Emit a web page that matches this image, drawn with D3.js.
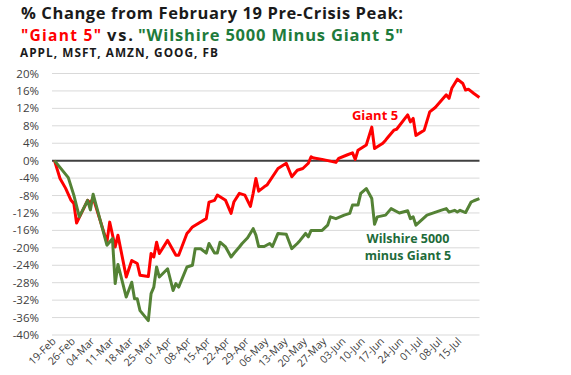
<!DOCTYPE html>
<html>
<head>
<meta charset="utf-8">
<script src="https://cdn.jsdelivr.net/npm/d3@7"></script>
<style>
  body { margin: 0; background: #fff; }
  text { font-family: "Open Sans", sans-serif; }
</style>
</head>
<body>
<div id="chart"></div>
<script>
// % change from Feb 19 peak
const giantDates = ["2020-02-19","2020-02-21","2020-02-23","2020-02-25","2020-02-26","2020-02-27","2020-02-28",
  "2020-03-02","2020-03-03","2020-03-04","2020-03-09","2020-03-10","2020-03-12","2020-03-13","2020-03-16",
  "2020-03-18","2020-03-20","2020-03-21","2020-03-24","2020-03-25","2020-03-26","2020-03-27","2020-03-28",
  "2020-03-31","2020-04-03","2020-04-04","2020-04-07","2020-04-08","2020-04-09","2020-04-14","2020-04-15",
  "2020-04-17","2020-04-18","2020-04-21","2020-04-23","2020-04-24","2020-04-26","2020-04-28","2020-04-30",
  "2020-05-01","2020-05-02","2020-05-03","2020-05-05","2020-05-06","2020-05-10","2020-05-13","2020-05-15",
  "2020-05-17","2020-05-19","2020-05-21","2020-05-22","2020-05-23","2020-05-26","2020-05-31","2020-06-01",
  "2020-06-04","2020-06-06","2020-06-07","2020-06-08","2020-06-11","2020-06-13","2020-06-14","2020-06-17",
  "2020-06-18","2020-06-19","2020-06-21","2020-06-22","2020-06-26","2020-06-27","2020-06-28","2020-06-29",
  "2020-07-02","2020-07-04","2020-07-06","2020-07-10","2020-07-11","2020-07-12","2020-07-14","2020-07-16",
  "2020-07-17","2020-07-18","2020-07-20","2020-07-22"];
const giantValues = [0,-4.1,-6.3,-9.1,-9.8,-14.3,-13.0,
  -9.1,-9.8,-8.5,-18.7,-14.1,-19.8,-17.1,-26.7,
  -22.9,-23.6,-26.3,-26.6,-21.3,-22.1,-18.7,-21.3,
  -18.3,-21.7,-21.7,-16.7,-16.0,-15.2,-13.3,-9.5,
  -9.1,-7.9,-9.1,-12.1,-9.5,-7.5,-7.9,-10.5,
  -7.5,-4.1,-7.0,-6.0,-5.6,-1.8,-0.6,-3.7,
  -2.2,-1.8,-0.6,0.9,0.6,0.3,-0.4,0.5,
  1.3,1.8,0.3,2.4,3.6,7.7,2.8,4.0,
  4.7,5.5,7.0,7.2,10.5,8.9,9.7,5.8,
  7.0,11.2,12.2,15.1,14.3,16.6,18.7,17.7,
  16.2,16.4,15.4,14.5];

const wilshireDates = ["2020-02-19","2020-02-24","2020-02-26","2020-02-28","2020-03-02","2020-03-03","2020-03-04",
  "2020-03-09","2020-03-11","2020-03-12","2020-03-13","2020-03-16","2020-03-18","2020-03-19","2020-03-20",
  "2020-03-21","2020-03-24","2020-03-25","2020-03-26","2020-03-27","2020-03-28","2020-03-31","2020-04-02",
  "2020-04-03","2020-04-04","2020-04-07","2020-04-09","2020-04-10","2020-04-12","2020-04-14","2020-04-15",
  "2020-04-17","2020-04-18","2020-04-19","2020-04-21","2020-04-23","2020-04-24","2020-04-26","2020-04-27",
  "2020-04-29","2020-05-01","2020-05-02","2020-05-03","2020-05-05","2020-05-07","2020-05-08","2020-05-10",
  "2020-05-13","2020-05-15","2020-05-17","2020-05-18","2020-05-20","2020-05-21","2020-05-22","2020-05-26",
  "2020-05-28","2020-05-29","2020-05-31","2020-06-03","2020-06-05","2020-06-06","2020-06-08","2020-06-09",
  "2020-06-11","2020-06-13","2020-06-14","2020-06-15","2020-06-18","2020-06-20","2020-06-23","2020-06-26",
  "2020-06-27","2020-06-28","2020-06-29","2020-07-03","2020-07-08","2020-07-10","2020-07-11","2020-07-13",
  "2020-07-14","2020-07-15","2020-07-17","2020-07-19","2020-07-20","2020-07-22"];
const wilshireValues = [0,-3.9,-7.9,-12.9,-9.1,-11.3,-7.7,
  -19.4,-17.9,-28.2,-23.8,-31.3,-27.9,-31.7,-31.7,
  -34.4,-36.7,-30.5,-29.0,-24.4,-26.7,-24.8,-29.8,
  -28.2,-29.0,-24.4,-24.0,-20.2,-20.2,-21.2,-19.0,
  -21.2,-21.2,-18.7,-19.8,-22.1,-21.3,-19.8,-19.0,
  -17.7,-15.6,-17.1,-19.7,-19.7,-19.0,-19.7,-16.7,
  -16.9,-20.2,-19.0,-18.3,-16.7,-17.5,-16.0,-16.0,
  -14.8,-12.9,-13.3,-12.5,-12.1,-10.2,-10.2,-7.5,
  -6.4,-8.7,-14.6,-12.9,-12.5,-11.0,-12.0,-11.5,
  -13.3,-12.9,-14.8,-12.5,-11.4,-11.0,-11.8,-11.4,
  -11.8,-11.4,-11.9,-9.5,-9.2,-8.7];

const yTicks = [20,16,12,8,4,0,-4,-8,-12,-16,-20,-24,-28,-32,-36,-40];
const tickLabels = ["2020-02-19","2020-02-26","2020-03-04","2020-03-11","2020-03-18","2020-03-25",
  "2020-04-01","2020-04-08","2020-04-15","2020-04-22","2020-04-29","2020-05-06","2020-05-13",
  "2020-05-20","2020-05-27","2020-06-03","2020-06-10","2020-06-17","2020-06-24","2020-07-01",
  "2020-07-08","2020-07-15"];

const parse = d3.timeParse("%Y-%m-%d");
const fmt = d3.timeFormat("%d-%b");

const W = 571, H = 375;
const svg = d3.select("#chart").append("svg")
  .attr("width", W).attr("height", H)
  .style("background", "#fff");

const x = d3.scaleTime()
  .domain([parse("2020-02-19"), parse("2020-07-22")])
  .range([54.5, 479.4]);
const y = d3.scaleLinear()
  .domain([-40, 20])
  .range([335, 73.5]);

// gridlines
svg.append("g").selectAll("line")
  .data(yTicks.filter(d => d !== 0))
  .enter().append("line")
  .attr("x1", 52).attr("x2", 479.5)
  .attr("y1", d => y(d)).attr("y2", d => y(d))
  .attr("stroke", "#d9d9d9").attr("stroke-width", 1);

// y labels
svg.append("g").selectAll("text")
  .data(yTicks)
  .enter().append("text")
  .attr("x", 39).attr("y", d => y(d))
  .attr("dy", "0.35em")
  .attr("text-anchor", "end")
  .attr("font-size", 11.5)
  .attr("fill", "#404040")
  .text(d => d + "%");

// x labels
svg.append("g").selectAll("text")
  .data(tickLabels.map(parse))
  .enter().append("text")
  .attr("transform", d => "translate(" + (x(d) + 2) + ",342) rotate(-45)")
  .attr("text-anchor", "end")
  .attr("font-size", 10.5)
  .attr("fill", "#404040")
  .text(d => fmt(d));

// zero line
svg.append("line")
  .attr("x1", 52).attr("x2", 479.5)
  .attr("y1", y(0)).attr("y2", y(0))
  .attr("stroke", "#404040").attr("stroke-width", 2);

const line = d3.line()
  .x(d => x(d.date))
  .y(d => y(d.value));

const giant = giantDates.map((d, i) => ({date: parse(d), value: giantValues[i]}));
const wilshire = wilshireDates.map((d, i) => ({date: parse(d), value: wilshireValues[i]}));

svg.append("path").datum(giant)
  .attr("d", line)
  .attr("fill", "none")
  .attr("stroke", "#ff0000")
  .attr("stroke-width", 3)
  .attr("stroke-linejoin", "round");

svg.append("path").datum(wilshire)
  .attr("d", line)
  .attr("fill", "none")
  .attr("stroke", "#548235")
  .attr("stroke-width", 3)
  .attr("stroke-linejoin", "round");

// annotations
svg.append("text")
  .attr("x", 375).attr("y", 120)
  .attr("text-anchor", "middle")
  .attr("font-size", 13).attr("font-weight", "bold")
  .attr("fill", "#ff0000")
  .text("Giant 5");

svg.append("text")
  .attr("x", 408).attr("y", 242.5)
  .attr("text-anchor", "middle")
  .attr("font-size", 12.5).attr("font-weight", "bold")
  .attr("fill", "#1e6b3a")
  .text("Wilshire 5000");
svg.append("text")
  .attr("x", 408).attr("y", 259.5)
  .attr("text-anchor", "middle")
  .attr("font-size", 12.5).attr("font-weight", "bold")
  .attr("fill", "#1e6b3a")
  .text("minus Giant 5");

// title
svg.append("text")
  .attr("x", 21).attr("y", 19)
  .attr("font-size", 16.5).attr("font-weight", "bold")
  .attr("fill", "#1a1a1a")
  .attr("textLength", 382).attr("lengthAdjust", "spacing")
  .text("% Change from February 19 Pre-Crisis Peak:");

svg.append("text")
  .attr("x", 21).attr("y", 41)
  .attr("font-family", "DejaVu Sans")
  .attr("font-size", 15.5).attr("font-weight", "bold")
  .attr("fill", "#ff0000")
  .attr("textLength", 80).attr("lengthAdjust", "spacing")
  .text('"Giant 5"');
svg.append("text")
  .attr("x", 107).attr("y", 41)
  .attr("font-size", 16.5).attr("font-weight", "bold")
  .attr("fill", "#1a1a1a")
  .attr("textLength", 26).attr("lengthAdjust", "spacing")
  .text("vs.");
svg.append("text")
  .attr("x", 138).attr("y", 41)
  .attr("font-size", 16.5).attr("font-weight", "bold")
  .attr("fill", "#1e7b3c")
  .attr("textLength", 265).attr("lengthAdjust", "spacing")
  .text('"Wilshire 5000 Minus Giant 5"');

svg.append("text")
  .attr("x", 20).attr("y", 57)
  .attr("font-family", "DejaVu Sans")
  .attr("font-size", 11.8).attr("font-weight", "bold")
  .attr("fill", "#1a1a1a")
  .attr("textLength", 198).attr("lengthAdjust", "spacing")
  .text("APPL, MSFT, AMZN, GOOG, FB");
</script>
</body>
</html>
